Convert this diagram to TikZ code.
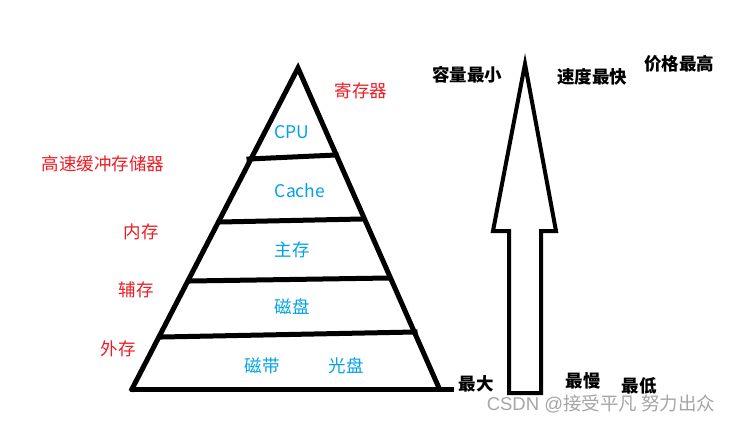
\documentclass[tikz,border=0pt]{standalone}
\usepackage{fontspec}
\newfontfamily\cjk{Noto Sans CJK SC}
\definecolor{pblue}{RGB}{0,162,232}
\definecolor{pred}{RGB}{237,28,36}
\begin{document}
\begin{tikzpicture}[x=1pt,y=-1pt,
  thick line/.style={line width=5pt, line join=miter, line cap=rect},
  alabel/.style={line width=4pt, line join=miter},
  bluelbl/.style={text=pblue, font=\cjk\fontsize{17.5}{20}\selectfont, inner sep=0pt},
  redlbl/.style={text=pred, font=\cjk\fontsize{17.5}{20}\selectfont, inner sep=0pt},
  blacklbl/.style={text=black, font=\cjk\bfseries\fontsize{17.5}{20}\selectfont, inner sep=0pt},
  wm/.style={text=black!35, font=\fontspec{Liberation Sans}\fontsize{18.5}{20}\selectfont, inner sep=0pt}]
\useasboundingbox[fill=white] (0,0) rectangle (736,423);
% pyramid
\coordinate (apex) at (298,68);
\coordinate (bl) at (132,389);
\coordinate (br) at (439,388);
\coordinate (bx) at (451,389);
\draw[thick line] (bl) -- (apex) -- (br);
\draw[thick line] (bl) -- (bx);
\coordinate (l1a) at (249,159); \coordinate (l1b) at (336,155);
\coordinate (l2a) at (220,222); \coordinate (l2b) at (362,219);
\coordinate (l3a) at (190,281); \coordinate (l3b) at (389,278);
\coordinate (l4a) at (162,337); \coordinate (l4b) at (415,332);
\draw[thick line] (l1a) -- (l1b);
\draw[thick line] (l2a) -- (l2b);
\draw[thick line] (l3a) -- (l3b);
\draw[thick line] (l4a) -- (l4b);
% blue labels
\node[bluelbl] (cpu) at (292,132) {CPU};
\node[bluelbl] (cache) at (300,191) {Cache};
\node[bluelbl] (zc) at (292,250) {主存};
\node[bluelbl] (cp) at (292,307) {磁盘};
\node[bluelbl] (cd) at (262,366) {磁带};
\node[bluelbl] (gp) at (346,366) {光盘};
% red labels
\node[redlbl] (jcq) at (361,91) {寄存器};
\node[redlbl] (gs) at (103,164) {高速缓冲存储器};
\node[redlbl] (nc) at (141,232) {内存};
\node[redlbl] (fc) at (136,290) {辅存};
\node[redlbl] (wc) at (118,349) {外存};
% arrow
\coordinate (tip) at (525,64);
\coordinate (hl) at (493,231);
\coordinate (sl) at (509,231);
\coordinate (sbl) at (509,393);
\coordinate (sbr) at (541,393);
\coordinate (sr) at (541,231);
\coordinate (hr) at (556,231);
\draw[alabel] (tip) -- (hl) -- (sl) -- (sbl) -- (sbr) -- (sr) -- (hr) -- cycle;
% black labels
\node[blacklbl] (rl) at (467,75) {容量最小};
\node[blacklbl] (sd) at (592,77) {速度最快};
\node[blacklbl] (jg) at (679,64) {价格最高};
\node[blacklbl] (zd) at (476,384) {最大};
\node[blacklbl] (zm) at (583,381) {最慢};
\node[blacklbl] (zdi) at (639,386) {最低};
% watermark
\node[wm] (wmk) at (601,404) {CSDN @{\cjk 接受平凡 努力出众}};
\end{tikzpicture}
\end{document}
